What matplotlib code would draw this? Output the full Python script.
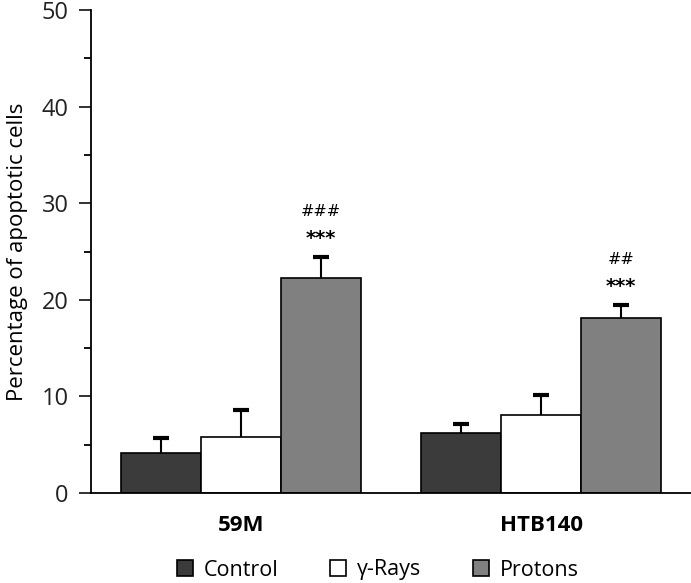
import matplotlib.pyplot as plt
import numpy as np

# data
groups = ['59M', 'HTB140']
series = ['Control', 'γ-Rays', 'Protons']
means = {
    'Control': [4.1, 6.2],
    'γ-Rays': [5.8, 8.1],
    'Protons': [22.3, 18.1],
}
errs = {
    'Control': [1.6, 0.9],
    'γ-Rays': [2.8, 2.0],
    'Protons': [2.1, 1.4],
}
stars = ['***', '***']
hashes = ['###', '##']

colors = {'Control': '#3b3b3b', 'γ-Rays': '#ffffff', 'Protons': '#808080'}

plt.rcParams['font.family'] = ['Open Sans', 'DejaVu Sans']

fig = plt.figure(figsize=(6.91, 5.83), dpi=100)
ax = fig.add_axes([91/691, 90/583, 600/691, 483/583])

x = np.arange(len(groups))
w = 0.2667
for i, s in enumerate(series):
    pos = x + (i - 1) * w
    ax.bar(pos, means[s], width=w, color=colors[s], edgecolor='black',
           linewidth=1.2, label=s, zorder=2)
    eb = ax.errorbar(pos, means[s], yerr=[np.zeros(2), errs[s]], fmt='none',
                     ecolor='black', elinewidth=1.5, capsize=6, capthick=3,
                     zorder=1)
    eb[1][0].set_visible(False)  # no lower cap

# significance marks above the proton bars
for j in range(len(groups)):
    top = means['Protons'][j] + errs['Protons'][j]
    ax.text(x[j] + w, top + 1.9, stars[j], ha='center', va='center',
            fontsize=14, fontweight='bold', family='DejaVu Sans')
    ax.text(x[j] + w, top + 4.7, hashes[j], ha='center', va='center',
            fontsize=11.5, family='DejaVu Sans')

ax.set_xlim(-0.5, 1.5)
ax.set_ylim(0, 50)
ax.set_yticks([0, 10, 20, 30, 40, 50])
ax.set_yticks(np.arange(5, 50, 10), minor=True)
ax.tick_params(axis='y', which='major', length=9, width=1.3, labelsize=17,
               direction='out', pad=7, colors='#222222')
ax.tick_params(axis='y', which='minor', length=5, width=1.3, direction='out')
ax.set_xticks(x)
ax.set_xticklabels(groups, fontsize=16, fontweight='bold')
ax.tick_params(axis='x', length=0, pad=16)

ax.spines['top'].set_visible(False)
ax.spines['right'].set_visible(False)
ax.spines['left'].set_linewidth(1.3)
ax.spines['bottom'].set_linewidth(1.3)
ax.set_ylabel('Percentage of apoptotic cells', fontsize=16, labelpad=10)

handles, labels = ax.get_legend_handles_labels()
fig.legend(handles, labels, loc='center', bbox_to_anchor=(378/691, 13/583),
           ncol=3, frameon=False, fontsize=15.5, handlelength=0.75,
           handleheight=0.75, columnspacing=2.4, handletextpad=0.5)

fig.savefig('out.png', dpi=100)
